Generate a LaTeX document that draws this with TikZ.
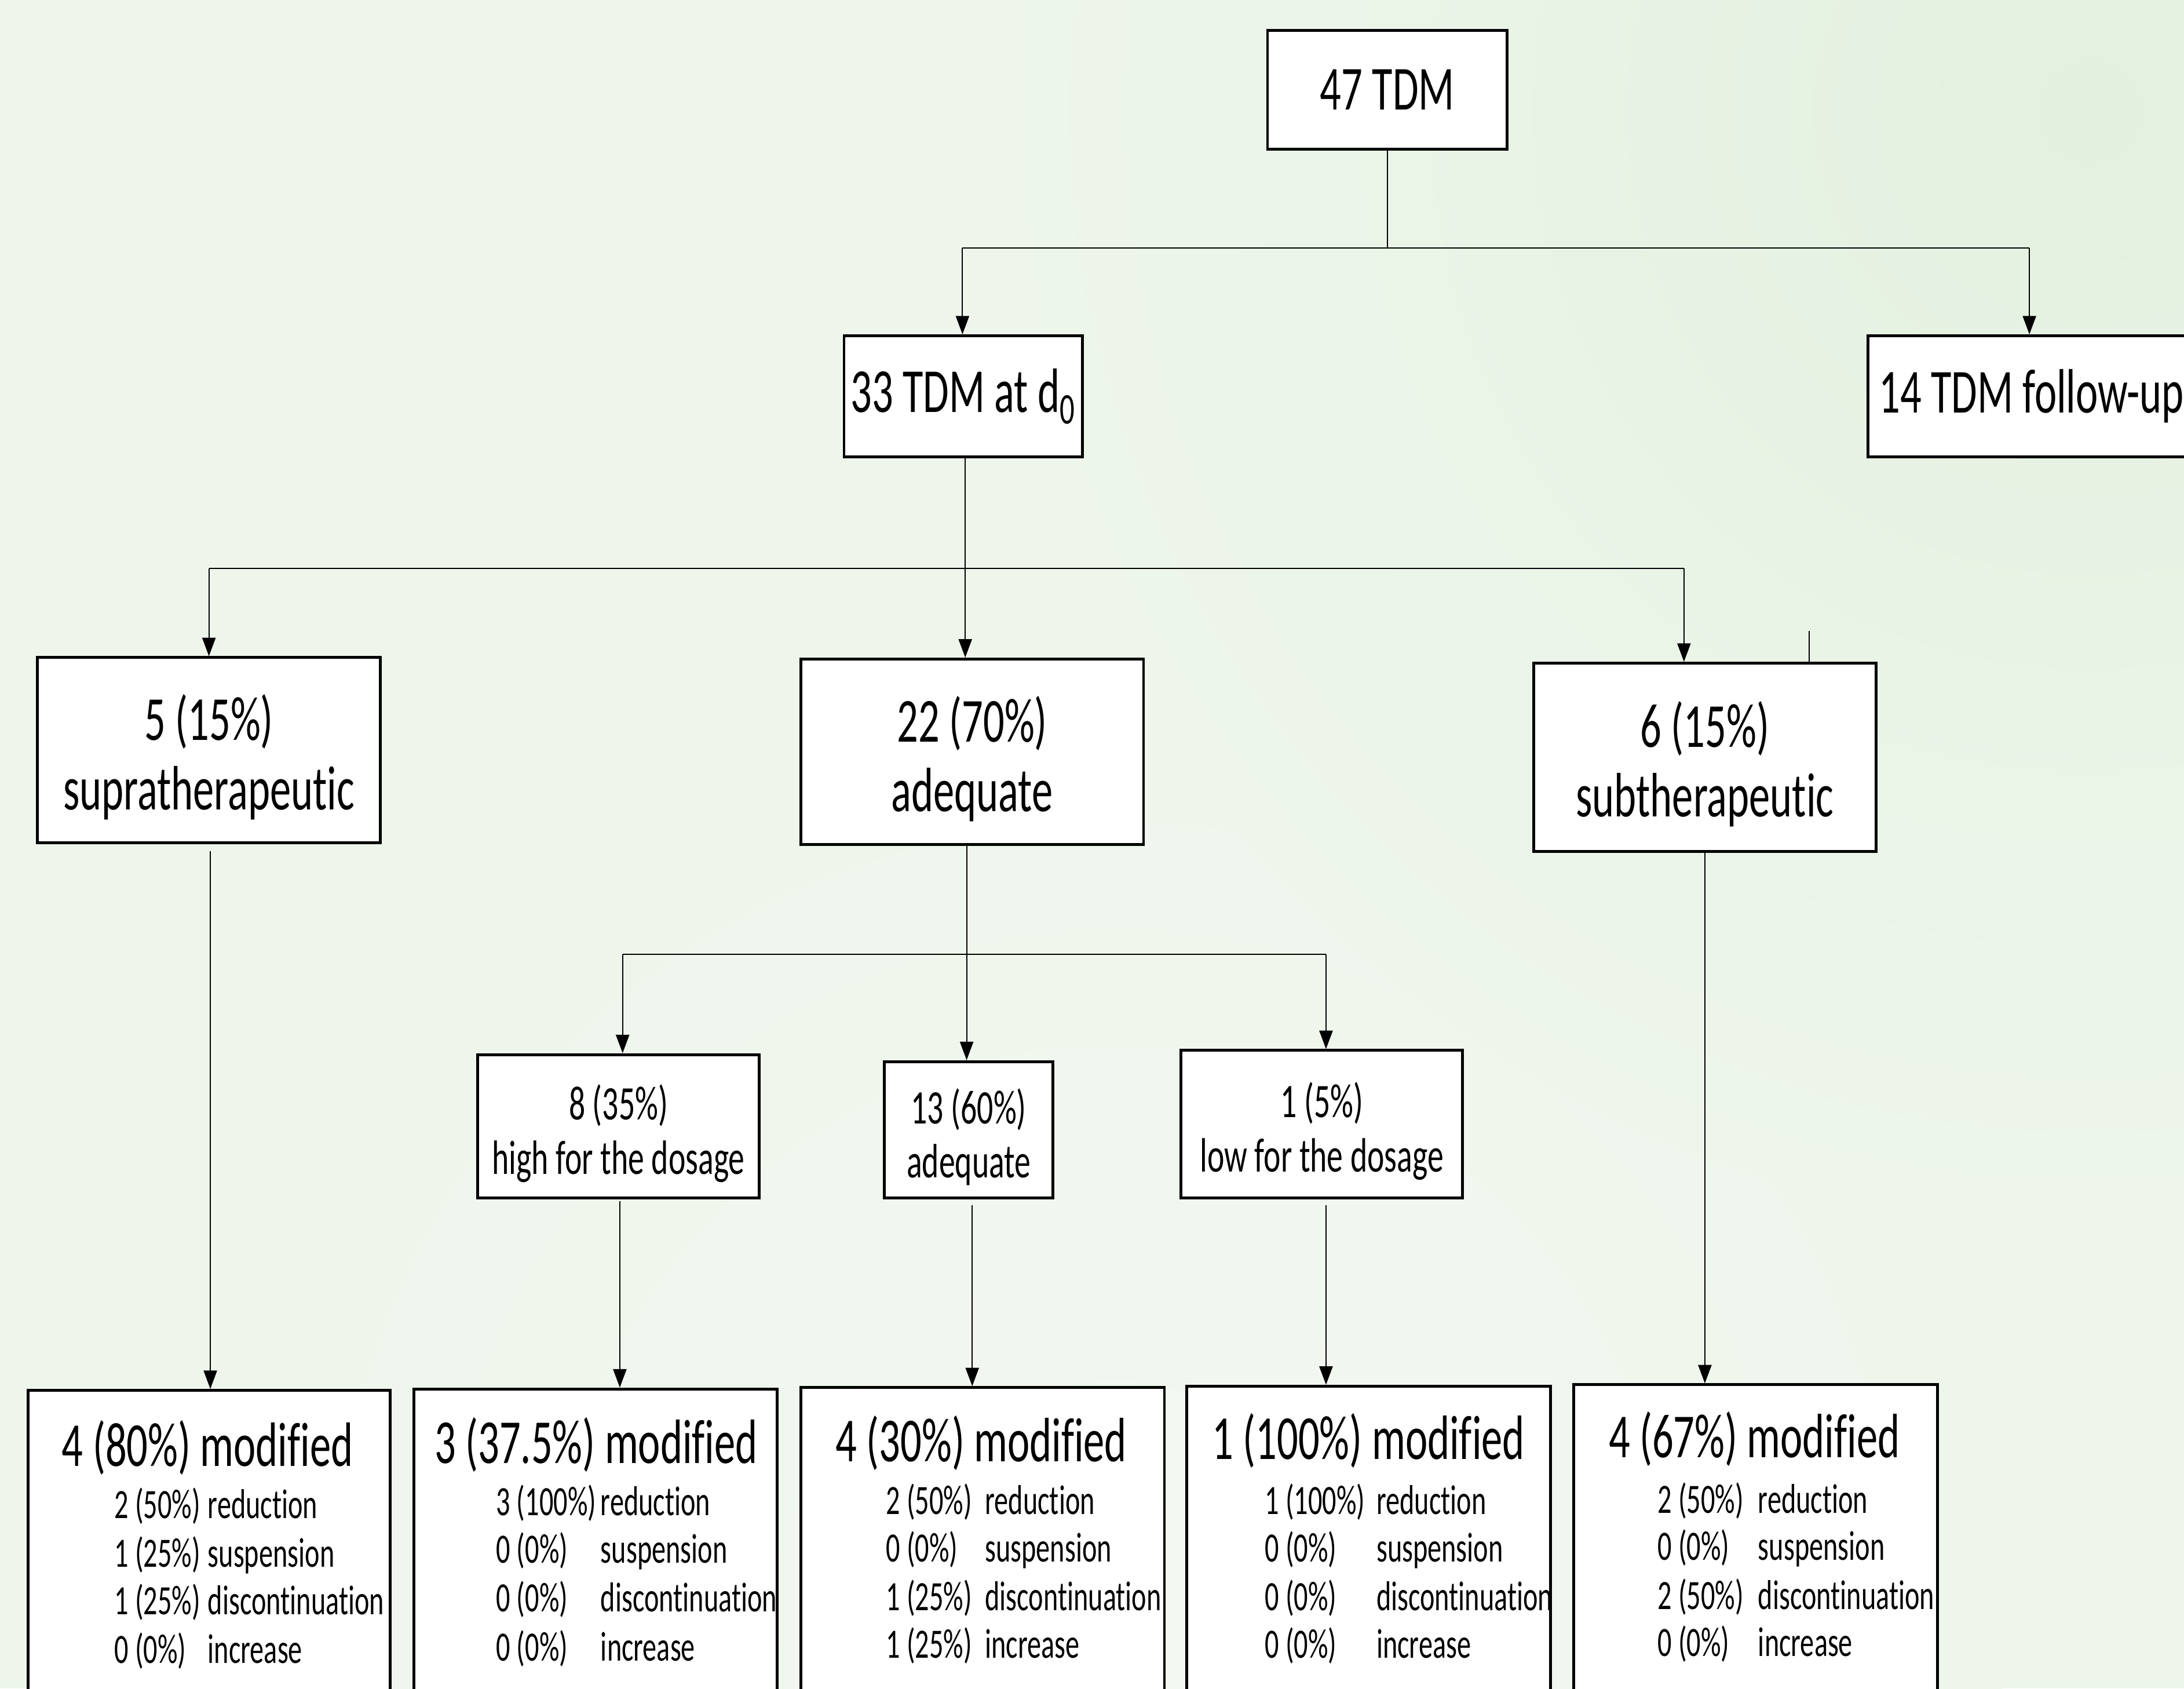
\documentclass[tikz,border=0pt]{standalone}
\usepackage{fontspec}
\setmainfont{Carlito}[FakeStretch=0.67,Ligatures=NoCommon]
\usetikzlibrary{arrows.meta}
\definecolor{bgbase}{HTML}{EEF6EC}
\definecolor{bgdark}{HTML}{E3F0DF}
\definecolor{bglight}{HTML}{F2F8F0}
\newcommand\boxnode[7]{%
  \node[box,minimum width={(#3-#2)*0.025cm},minimum height={(#5-#4)*0.025cm}] (#1) at ({(#2+#3)/2},{(#4+#5)/2}) {};
  \node[#6] (#1t) at (#1.center) {#7};}
\newcommand\outrow[6]{%
  \node[subtxt] (#1n) at (#2,#4) {#5};
  \node[subtxt] (#1w) at (#3,#4) {#6};}
\begin{document}
\begin{tikzpicture}[x=0.025cm,y=-0.025cm,
  box/.style={draw=black,line width=1.45pt,fill=white,inner sep=0pt},
  conn/.style={line width=0.6pt},
  arr/.style={line width=0.6pt,-{Triangle[length=0.33cm,width=0.24cm]}},
  big/.style={font=\fontsize{32}{35.6}\selectfont,align=center,inner sep=0pt},
  bigtwo/.style={big,yshift=-3.6pt},
  mid/.style={font=\fontsize{24.6}{27.7}\selectfont,align=center,inner sep=0pt,yshift=-3.6pt},
  subtxt/.style={font=\fontsize{21.3}{24}\selectfont,anchor=base west,inner sep=0pt},
]
\useasboundingbox (0,0) rectangle (1568,1212);
\clip (0,0) rectangle (1568,1212);
% background
\fill[bgbase] (0,0) rectangle (1568,1212);
\shade[inner color=bglight,outer color=bgbase] (800,1150) circle (16cm);
\shade[inner color=bgdark,outer color=bgbase] (1500,80) circle (20cm);

% level 0-1
\boxnode{n47}{910}{1082}{22}{107}{big}{47 TDM}
\boxnode{n33}{606}{777}{241}{328}{big}{33 TDM at d\textsubscript{0}}
\boxnode{n14}{1341}{1576}{241}{328}{big}{14 TDM follow-up}

% level 2
\boxnode{nsup}{27}{273}{472}{605}{bigtwo}{5 (15\%)\\supratherapeutic}
\boxnode{nade}{575}{821}{473}{606}{bigtwo}{22 (70\%)\\adequate}
\boxnode{nsub}{1101}{1347}{476}{611}{bigtwo}{6 (15\%)\\subtherapeutic}

% level 3
\boxnode{nhigh}{343}{545}{757}{860}{mid}{8 (35\%)\\high for the dosage}
\boxnode{nade2}{635}{756}{762}{860}{mid}{13 (60\%)\\adequate}
\boxnode{nlow}{848}{1050}{754}{860}{mid}{1 (5\%)\\low for the dosage}

% outcome boxes
\boxnode{ma}{20}{280}{998}{1240}{}{}
\boxnode{mb}{297}{558}{997}{1240}{}{}
\boxnode{mc}{575}{836}{996}{1240}{}{}
\boxnode{md}{852}{1113}{995}{1240}{}{}
\boxnode{me}{1130}{1391}{994}{1240}{}{}

% connectors
\coordinate (j1) at (996,178);
\coordinate (j1l) at (691,178);
\coordinate (j1r) at (1457,178);
\draw[conn] (j1 |- n47.south) -- (j1);
\draw[conn] (j1l) -- (j1r);
\draw[arr] (j1l) -- (j1l |- n33.north);
\draw[arr] (j1r) -- (j1r |- n14.north);

\coordinate (j2) at (693,408);
\coordinate (j2l) at (150,408);
\coordinate (j2r) at (1209,408);
\draw[conn] (j2 |- n33.south) -- (j2);
\draw[conn] (j2l) -- (j2r);
\draw[arr] (j2l) -- (j2l |- nsup.north);
\draw[arr] (j2) -- (j2 |- nade.north);
\draw[arr] (j2r) -- (j2r |- nsub.north);
\coordinate (tick) at (1299,453);
\draw[conn] (tick) -- (tick |- nsub.north);

\coordinate (j3) at (694,685);
\coordinate (j3l) at (447,685);
\coordinate (j3r) at (952,685);
\draw[conn] (j3 |- nade.south) -- (j3);
\draw[conn] (j3l) -- (j3r);
\draw[arr] (j3l) -- (j3l |- nhigh.north);
\draw[arr] (j3) -- (j3 |- nade2.north);
\draw[arr] (j3r) -- (j3r |- nlow.north);

\coordinate (da) at (151,611);
\coordinate (db) at (445,862);
\coordinate (dc) at (698,865);
\coordinate (dd) at (952,865);
\coordinate (de) at (1224,611);
\draw[arr] (da) -- (da |- ma.north);
\draw[arr] (db) -- (db |- mb.north);
\draw[arr] (dc) -- (dc |- mc.north);
\draw[arr] (dd) -- (dd |- md.north);
\draw[arr] (de) -- (de |- me.north);

% outcome texts
\node[big] (ta) at (149,1039) {4 (80\%) modified};
\node[big] (tb) at (428,1037) {3 (37.5\%) modified};
\node[big] (tc) at (704.5,1036) {4 (30\%) modified};
\node[big] (td) at (982.5,1034) {1 (100\%) modified};
\node[big] (te) at (1259.5,1033) {4 (67\%) modified};

\outrow{a1}{82}{149}{1090}{2 (50\%)}{reduction}
\outrow{a2}{82}{149}{1125}{1 (25\%)}{suspension}
\outrow{a3}{82}{149}{1159}{1 (25\%)}{discontinuation}
\outrow{a4}{82}{149}{1194}{0 (0\%)}{increase}

\outrow{b1}{356}{431}{1088}{3 (100\%)}{reduction}
\outrow{b2}{356}{431}{1122}{0 (0\%)}{suspension}
\outrow{b3}{356}{431}{1157}{0 (0\%)}{discontinuation}
\outrow{b4}{356}{431}{1192}{0 (0\%)}{increase}

\outrow{c1}{636}{707}{1087}{2 (50\%)}{reduction}
\outrow{c2}{636}{707}{1121}{0 (0\%)}{suspension}
\outrow{c3}{636}{707}{1156}{1 (25\%)}{discontinuation}
\outrow{c4}{636}{707}{1190}{1 (25\%)}{increase}

\outrow{d1}{908}{988}{1087}{1 (100\%)}{reduction}
\outrow{d2}{908}{988}{1121}{0 (0\%)}{suspension}
\outrow{d3}{908}{988}{1156}{0 (0\%)}{discontinuation}
\outrow{d4}{908}{988}{1190}{0 (0\%)}{increase}

\outrow{e1}{1190}{1262}{1086}{2 (50\%)}{reduction}
\outrow{e2}{1190}{1262}{1120}{0 (0\%)}{suspension}
\outrow{e3}{1190}{1262}{1155}{2 (50\%)}{discontinuation}
\outrow{e4}{1190}{1262}{1189}{0 (0\%)}{increase}
\end{tikzpicture}
\end{document}
